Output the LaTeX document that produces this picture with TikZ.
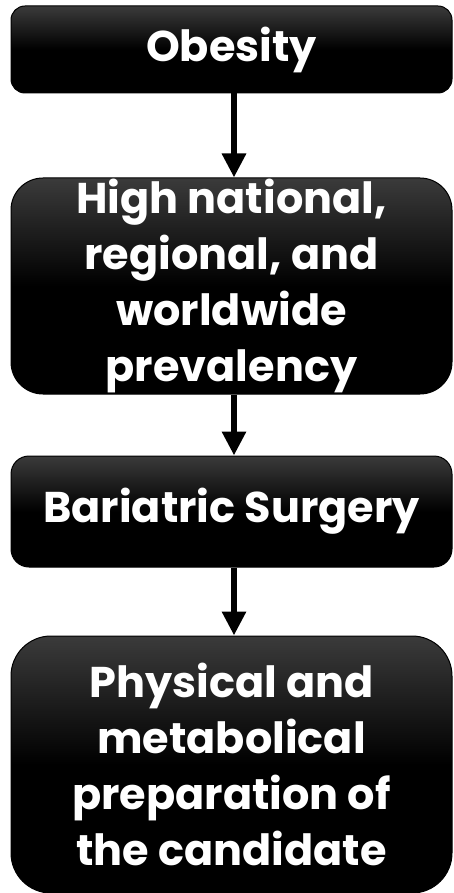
\documentclass[tikz,border=0pt]{standalone}
\usepackage{fontspec}
\setmainfont{Poppins}[BoldFont={* Bold}]
\usetikzlibrary{arrows.meta,positioning}

\tikzset{
  stage/.style={rectangle, draw=black, line width=1pt, text=white,
    top color=black!77, bottom color=black, middle color=black,
    minimum width=441pt, inner sep=0pt, align=center,
    font=\fontsize{43}{56}\selectfont\bfseries}
}

\begin{document}
\begin{tikzpicture}[->,>={Triangle[width=23pt,length=24pt]},line width=6.5pt,node distance=84pt]
  \useasboundingbox (0pt,0pt) rectangle (454pt,-893pt);

  \node[stage,minimum height=87pt,rounded corners=14pt] (obes) at (231.5pt,-49.5pt) {Obesity};
  \node[stage,minimum height=216pt,rounded corners=32pt] (prev) [below=84pt of obes]
    {High national,\\regional, and\\worldwide\\prevalency};
  \node[stage,minimum height=111pt,rounded corners=18pt] (surg) [below=61pt of prev] {Bariatric Surgery};
  \node[stage,minimum height=257pt,rounded corners=40pt] (prep) [below=68pt of surg]
    {Physical and\\metabolical\\preparation of\\the candidate};

  \draw ([xshift=2.5pt]obes.south) -- ([xshift=2.5pt]prev.north);
  \draw ([xshift=2.5pt]prev.south) -- ([xshift=2.5pt]surg.north);
  \draw ([xshift=2.5pt]surg.south) -- ([xshift=2.5pt]prep.north);
\end{tikzpicture}
\end{document}
